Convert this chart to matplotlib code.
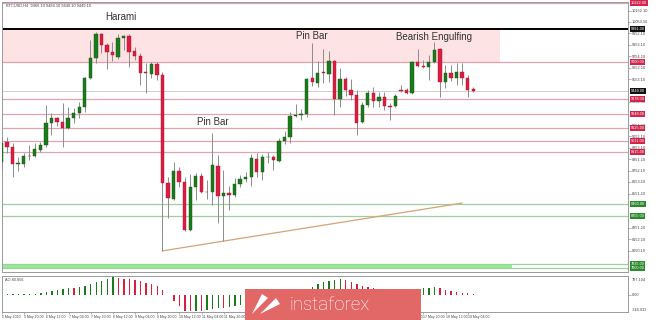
import numpy as np
import matplotlib.pyplot as plt
from matplotlib.patches import Rectangle, Polygon
from matplotlib.transforms import blended_transform_factory

# BTCUSD H4, 5 May 2020 04:00 ... 19 May 2020 08:00
opens = [8828, 9003, 8959, 8810, 8810, 8876, 8880, 8932, 8976, 9169,
         9212, 9177, 9125, 9212, 9256, 9309, 9562, 9737, 9947, 9851,
         9790, 9746, 9912, 9930, 9799, 9755, 9615, 9597, 9685, 9589,
         8644, 8504, 8749, 8652, 8232, 8609, 8705, 8565, 8565, 8792,
         8530, 8556, 8539, 8635, 8679, 8696, 8854, 8740, 8867, 8871,
         8836, 9011, 9046, 9230, 9239, 9248, 9562, 9519, 9615, 9597,
         9711, 9379, 9554, 9458, 9414, 9177, 9326, 9431, 9361, 9396,
         9318, 9318, 9458, 9458, 9431, 9702, 9668, 9659, 9702, 9816,
         9528, 9606, 9562, 9615, 9562, 9466]
highs = [9046, 9046, 8994, 8871, 8906, 8976, 8994, 9003, 9326, 9256,
         9221, 9344, 9309, 9300, 9352, 9571, 9895, 9965, 9956, 9869,
         9877, 9947, 9939, 9947, 9834, 9781, 9694, 9702, 9702, 9615,
         8696, 8828, 8784, 8696, 8722, 8731, 8731, 8670, 9081, 8889,
         8758, 8618, 8688, 8714, 8740, 8898, 8906, 8898, 8915, 8889,
         9038, 9099, 9265, 9335, 9291, 9562, 9869, 9711, 9816, 9799,
         9720, 9650, 9571, 9554, 9458, 9352, 9458, 9484, 9440, 9440,
         9344, 9423, 9501, 9475, 9711, 9816, 9720, 9764, 9877, 9825,
         9676, 9676, 9694, 9694, 9589, 9484]
lows = [8758, 8906, 8696, 8749, 8784, 8845, 8871, 8915, 8959, 9064,
        9142, 8959, 9116, 9169, 9212, 9265, 9554, 9694, 9781, 9641,
        9711, 9729, 9807, 9659, 9720, 9501, 9431, 9562, 9545, 8050,
        8337, 8495, 8609, 8224, 8224, 8495, 8556, 8504, 8451, 8294,
        8136, 8408, 8521, 8609, 8652, 8618, 8696, 8670, 8819, 8758,
        8828, 8985, 8994, 9221, 9195, 9221, 9493, 9484, 9519, 9528,
        9239, 9309, 9405, 9370, 9064, 9169, 9309, 9309, 9309, 9283,
        9195, 9309, 9440, 9423, 9423, 9659, 9650, 9545, 9694, 9396,
        9475, 9536, 9501, 9501, 9396, 9440]
closes = [8994, 8959, 8810, 8814, 8880, 8880, 8941, 8976, 9169, 9212,
          9177, 9125, 9212, 9256, 9309, 9562, 9737, 9947, 9851, 9790,
          9764, 9912, 9930, 9790, 9755, 9606, 9606, 9685, 9589, 8644,
          8512, 8749, 8652, 8232, 8609, 8705, 8565, 8561, 8801, 8530,
          8556, 8539, 8635, 8679, 8696, 8863, 8740, 8871, 8871, 8845,
          9011, 9046, 9230, 9239, 9248, 9554, 9528, 9606, 9606, 9711,
          9379, 9554, 9458, 9414, 9169, 9326, 9431, 9361, 9396, 9318,
          9313, 9405, 9449, 9431, 9702, 9668, 9663, 9702, 9807, 9528,
          9606, 9562, 9615, 9562, 9458, 9449]

# Awesome Oscillator
ao = [13, 17, 22, 26, 31, 35, 44, 87, 131, 175,
      205, 249, 275, 262, 306, 380, 450, 524, 599, 669,
      743, 699, 686, 656, 625, 581, 511, 450, 363, 188,
      -31, -275, -494, -686, -712, -686, -699, -664, -612, -577,
      -594, -542, -494, -446, -393, -328, -275, -210, -149, -96,
      -35, 35, 100, 153, 197, 245, 336, 450, 546, 590,
      621, 656, 625, 555, 450, 380, 336, 293, 240, 197,
      166, 144, 135, 149, 175, 218, 262, 288, 306, 262,
      218, 166, 118, 87, 57, 44]

# levels
resistance = [9700, 9378, 9248, 9125, 9011, 8915, 10222]
support = [8460, 8355, 7935, 7900]
zone_top = 9991
zone_bottom = 9700
current = 9449
trend_x = [29, 83]
trend_y = [8050, 8468]

price_ticks = [10152.10, 10053.10, 9952.10, 9853.10, 9754.10, 9652.10, 9553.10,
               9354.10, 9151.10, 9052.10, 8953.10, 8851.10,
               8752.10, 8653.10, 8551.10, 8251.10, 8152.10, 8050.10]

time_ticks = list(range(0, 86, 4))
time_labels = ["5 May 2020", "5 May 20:00", "6 May 12:00", "7 May 04:00",
               "7 May 20:00", "8 May 12:00", "9 May 04:00", "9 May 20:00",
               "10 May 12:00", "11 May 04:00", "11 May 20:00", "12 May 12:00",
               "13 May 04:00", "13 May 20:00", "14 May 12:00", "15 May 04:00",
               "15 May 20:00", "16 May 12:00", "17 May 04:00", "17 May 20:00",
               "18 May 12:00", "19 May 04:00"]

BULL = '#1b7a1b'
BEAR = '#d91f40'
WICK = '#8c8c8c'
RLINE = '#e0a3af'
GLINE = '#9fcf9f'
SMALL = 'Liberation Sans'

fig = plt.figure(figsize=(6.65, 3.2), dpi=100)
ax = fig.add_axes([2 / 665, 1 - 272 / 320, 626 / 665, 270 / 320])
axi = fig.add_axes([2 / 665, 1 - 312 / 320, 626 / 665, 36 / 320])

xlo, xhi = 0.09, 112.9
x = np.arange(len(opens))
o = np.array(opens)
h = np.array(highs)
l = np.array(lows)
c = np.array(closes)

# zones and levels
ax.add_patch(Rectangle((xlo, zone_bottom), 89.8 - xlo, zone_top - zone_bottom,
                       fc='#fde3e3', ec='none', zorder=0))
ax.add_patch(Rectangle((xlo, support[3]), 92 - xlo, support[2] - support[3],
                       fc='#90ee90', ec='none', zorder=0))
for r in resistance:
    ax.axhline(r, color=RLINE, lw=0.9, zorder=1)
for s in support:
    ax.axhline(s, color=GLINE, lw=0.9, zorder=1)
ax.axhline(zone_top, color='black', lw=1.4, zorder=2)
ax.axhline(current, color='#c8c8c8', lw=0.6, zorder=1)
ax.plot(trend_x, trend_y, color='#d4a373', lw=0.9, zorder=2)

# candles
up = c >= o
ax.vlines(x, l, h, color=WICK, lw=0.7, zorder=3)
body_lo = np.minimum(o, c)
body_h = np.maximum(np.abs(c - o), 6)
ax.bar(x, body_h, bottom=body_lo, width=0.6,
       color=np.where(up, BULL, BEAR), edgecolor=np.where(up, '#115511', '#b01030'),
       lw=0.3, zorder=4)

ax.set_xlim(xlo, xhi)
ax.set_ylim(7865, 10227.5)
ax.set_xticks([])
ax.yaxis.tick_right()
ax.set_yticks(price_ticks)
ax.set_yticklabels([f"{t:.2f}" for t in price_ticks], family=SMALL)
ax.tick_params(axis='y', labelsize=2.8, length=2, pad=1, colors='#777777',
               labelcolor='#444444', width=0.4)
for sp in ax.spines.values():
    sp.set_color('#9a9a9a')
    sp.set_linewidth(0.7)

# coloured price labels
tr = blended_transform_factory(ax.transAxes, ax.transData)
def price_tag(a, trans, val, fc):
    a.text(1.004, val, f"{val:.2f}", transform=trans, fontsize=2.8, family=SMALL,
           color='white', va='center', ha='left', zorder=10, clip_on=False,
           bbox=dict(boxstyle='square,pad=0.25', fc=fc, ec='none'))

for r in resistance:
    price_tag(ax, tr, r, '#d0264c')
for s in support:
    price_tag(ax, tr, s, '#2a8a2a')
price_tag(ax, tr, zone_top, '#111111')
price_tag(ax, tr, current, '#111111')

# pattern labels
lbl = dict(fontsize=7, family='Liberation Sans', color='#333333',
           ha='center', va='center', zorder=6)
ax.text(21.6, 10092, "Harami", **lbl)
ax.text(56, 9930, "Pin Bar", **lbl)
ax.text(38, 9180, "Pin Bar", **lbl)
ax.text(78, 9925, "Bearish Engulfing", **lbl)
ax.text(0.006, 0.995, "BTCUSD,H4  9466.10 9484.10 9440.10 9449.10",
        transform=ax.transAxes, fontsize=2.8, family=SMALL, color='#444444',
        va='top', ha='left')

# oscillator
ao_arr = np.array(ao)
ao_col = [BULL if i == 0 or ao_arr[i] >= ao_arr[i - 1] else BEAR for i in range(len(ao_arr))]
axi.bar(x, ao_arr, width=0.25, color=ao_col, lw=0)
axi.set_xlim(xlo, xhi)
axi.set_ylim(-746, 797)
axi.yaxis.tick_right()
axi.set_yticks([0])
axi.set_yticklabels(["0.00"], family=SMALL)
axi.tick_params(axis='y', labelsize=2.8, length=2, pad=1, colors='#777777',
                labelcolor='#444444', width=0.4)
itr = axi.transAxes
axi.text(1.006, 0.9, "797.104", transform=itr, fontsize=2.8, family=SMALL,
         color='#444444', va='center')
axi.text(1.006, 0.06, "-746.032", transform=itr, fontsize=2.8, family=SMALL,
         color='#444444', va='center')
axi.text(0.004, 0.9, "AO 80.856", transform=itr, fontsize=2.8, family=SMALL,
         color='#444444', va='center')
axi.set_xticks(time_ticks)
axi.set_xticklabels(time_labels, ha='left', family=SMALL)
axi.tick_params(axis='x', labelsize=2.5, length=1.5, pad=1, colors='#777777',
                labelcolor='#444444', width=0.4)
for sp in axi.spines.values():
    sp.set_color('#9a9a9a')
    sp.set_linewidth(0.7)

# watermark
fig.patches.append(Rectangle((245 / 665, 0), 176 / 665, 31 / 320, transform=fig.transFigure,
                             fc='#e26868', ec='none', zorder=20))
fig.patches.append(Polygon([(252 / 665, 6 / 320), (262 / 665, 26 / 320), (268 / 665, 22 / 320)],
                           transform=fig.transFigure, fc='white', ec='none', zorder=21))
fig.patches.append(Polygon([(260 / 665, 6 / 320), (276 / 665, 22 / 320), (280 / 665, 16 / 320)],
                           transform=fig.transFigure, fc='white', ec='none', zorder=21))
fig.text(290 / 665, 10 / 320, "instaforex", fontsize=13.5, family='Roboto', weight='light',
         color='white', va='baseline', ha='left', zorder=22)

fig.savefig('out.png', dpi=100)
